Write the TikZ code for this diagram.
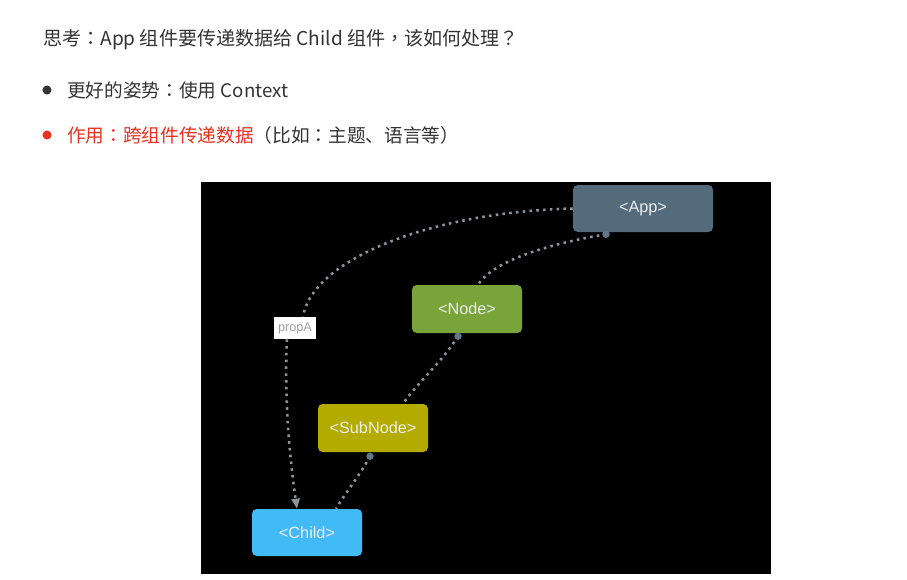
\documentclass[tikz,border=0pt]{standalone}
\usepackage{fontspec}
\setmainfont{Noto Sans CJK SC}
\newfontfamily\fwfont{Noto Sans CJK TC}
\newfontfamily\boxfont{Liberation Sans}
\newcommand{\fw}[1]{{\fwfont #1}}
\usetikzlibrary{arrows.meta}
\definecolor{textgray}{HTML}{333333}
\definecolor{hotred}{HTML}{E8321E}
\definecolor{appgray}{HTML}{536B7A}
\definecolor{nodegreen}{HTML}{78A43A}
\definecolor{subolive}{HTML}{B3AB00}
\definecolor{childblue}{HTML}{42BAF6}
\definecolor{boxtext}{HTML}{EDEDED}
\definecolor{linkgray}{HTML}{8E969C}
\definecolor{knobgray}{HTML}{5E7686}
\begin{document}
\begin{tikzpicture}[x=0.75pt, y=-0.75pt,
    txt/.style={anchor=west, inner sep=0pt, text=textgray, font=\fontsize{14}{16}\selectfont},
    comp/.style={rounded corners=3.5pt, minimum width=82.5pt, minimum height=36pt, text=boxtext, font=\boxfont\fontsize{12.2}{14}\selectfont},
    link/.style={draw=linkgray, line width=1.9pt, dash pattern=on 1.9pt off 3.2pt},
    knob/.style={fill=knobgray}]
    \fill[white] (0,0) rectangle (907,579);
    \useasboundingbox (0,0) rectangle (907,579);

    % heading and bullets
    \node[txt, font=\fontsize{14.3}{16}\selectfont] (question) at (43,40) {思考\fw{：}App 组件要传递数据给 Child 组件\fw{，}该如何处理\fw{？}};
    \fill[textgray] (47,90) circle (3.4pt);
    \node[txt] (better) at (67,90) {更好的姿势\fw{：}使用 Context};
    \fill[hotred] (47,135) circle (3.4pt);
    \node[txt] (usage) at (67,135) {\textcolor{hotred}{作用\fw{：}跨组件传递数据}（比如\fw{：}主题、语言等）};

    % black panel
    \fill[black] (201,182) rectangle (771,574);

    % components
    \node[comp, fill=appgray, minimum width=105pt, minimum height=35.25pt] (app) at (643,208.5) {<App>};
    \node[comp, fill=nodegreen] (nodecomp) at (467,309) {<Node>};
    \node[comp, fill=subolive] (subnode) at (373,428) {<SubNode>};
    \node[comp, fill=childblue, minimum height=35.25pt] (child) at (307,532.5) {<Child>};
    \node[fill=white, minimum width=31.5pt, minimum height=16.5pt, inner sep=0pt, text=gray!75, font=\boxfont\fontsize{9.5}{10}\selectfont] (propA) at (295,328) {propA};

    % passing the prop down
    \draw[link, -{Triangle[length=7.5pt, width=6pt]}] (app.west) .. controls (430,212) and (312,260) .. ([xshift=6pt]propA.north)
        ([xshift=-6pt]propA.south) .. controls (284,400) and (290,460) .. ([xshift=-7.5pt]child.north);

    % tree links
    \draw[link] ([xshift=-27.75pt, yshift=-1.5pt]app.south) .. controls (560,242) and (495,258) .. ([xshift=8.25pt]nodecomp.north);
    \draw[link] ([xshift=-6.75pt, yshift=-2.25pt]nodecomp.south) .. controls (442,362) and (418,382) .. ([xshift=22.5pt]subnode.north);
    \draw[link] ([xshift=-2.25pt, yshift=-3pt]subnode.south) .. controls (360,475) and (346,492) .. ([xshift=21.75pt]child.north);
    \fill[knob] ([xshift=-27.75pt, yshift=-1.5pt]app.south) circle (2.8pt);
    \fill[knob] ([xshift=-6.75pt, yshift=-2.25pt]nodecomp.south) circle (2.8pt);
    \fill[knob] ([xshift=-2.25pt, yshift=-3pt]subnode.south) circle (2.8pt);
\end{tikzpicture}
\end{document}
